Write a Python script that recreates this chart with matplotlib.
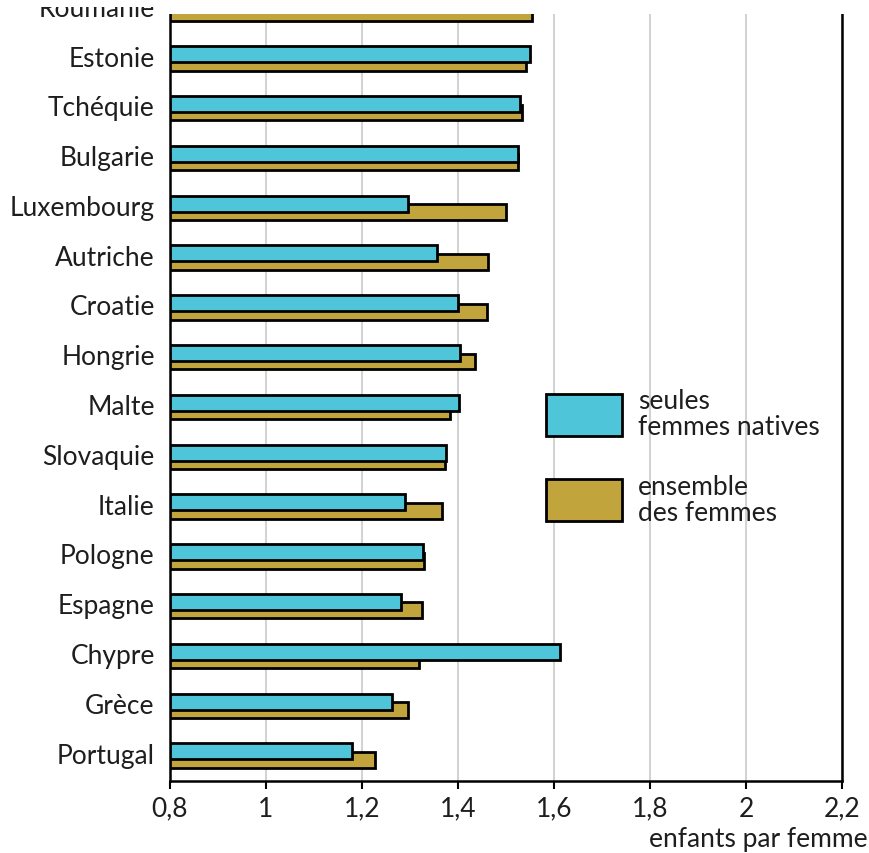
import matplotlib
matplotlib.use("Agg")
import matplotlib.pyplot as plt
import matplotlib.transforms as mtransforms
from matplotlib.patches import Rectangle
import numpy as np

plt.rcParams['font.family'] = ['Lato', 'DejaVu Sans']

# values (enfants par femme)
pays = ["Roumanie", "Estonie", "Tchéquie", "Bulgarie", "Luxembourg", "Autriche",
        "Croatie", "Hongrie", "Malte", "Slovaquie", "Italie", "Pologne",
        "Espagne", "Chypre", "Grèce", "Portugal"]
natives = [1.55, 1.55, 1.53, 1.525, 1.295, 1.357, 1.40, 1.404, 1.403, 1.375,
           1.29, 1.328, 1.281, 1.612, 1.262, 1.179]
ensemble = [1.554, 1.542, 1.533, 1.525, 1.50, 1.462, 1.46, 1.435, 1.383, 1.373,
            1.367, 1.329, 1.325, 1.319, 1.296, 1.227]
xticks = [0.8, 1.0, 1.2, 1.4, 1.6, 1.8, 2.0, 2.2]
xticklabels = ["0,8", "1", "1,2", "1,4", "1,6", "1,8", "2", "2,2"]

cyan = "#4fc5d9"
olive = "#c1a43b"
txt = "#1e1e1e"
fs = 19

fig = plt.figure(figsize=(8.69, 8.54), dpi=100)
ax = fig.add_axes([170 / 869, 72.5 / 854, 672 / 869, 781.5 / 854])

y = np.arange(len(pays))
h = 0.32
off = 0.085
x0 = 0.8
ax.barh(y + off, np.array(ensemble) - x0, left=x0, height=h, color=olive,
        edgecolor="black", linewidth=2.0, zorder=3)
ax.barh(y - off, np.array(natives) - x0, left=x0, height=h, color=cyan,
        edgecolor="black", linewidth=2.0, zorder=4)

ax.set_xlim(0.8, 2.2)
ax.set_ylim(15.5, -0.195)
ax.set_xticks(xticks)
ax.set_xticklabels(xticklabels, fontsize=fs, color=txt)
ax.set_yticks(y)
ax.set_yticklabels(pays, fontsize=fs, color=txt)
ax.tick_params(axis="y", length=0, pad=11)
ax.tick_params(axis="x", length=6, width=1.5, pad=5, direction="out")

# country names sit a little above the bar pair
shift = mtransforms.ScaledTranslation(0, 3 / 100, fig.dpi_scale_trans)
for lab in ax.get_yticklabels():
    lab.set_transform(lab.get_transform() + shift)

ax.xaxis.grid(True, color="#d3d3d3", linewidth=1.5, zorder=0)
ax.set_axisbelow(True)
for s in ["left", "bottom", "right"]:
    ax.spines[s].set_linewidth(1.8)
ax.spines["top"].set_visible(False)

# legend drawn by hand
ax.add_patch(Rectangle((0.5595, 0.4408), 0.113, 0.0537, transform=ax.transAxes,
                       facecolor=cyan, edgecolor="black", linewidth=2.0, zorder=5))
ax.add_patch(Rectangle((0.5595, 0.332), 0.113, 0.0537, transform=ax.transAxes,
                       facecolor=olive, edgecolor="black", linewidth=2.0, zorder=5))
ax.text(0.6964, 0.469, "seules\nfemmes natives", transform=ax.transAxes,
        fontsize=fs, va="center", ha="left", color=txt, linespacing=1.05)
ax.text(0.6964, 0.359, "ensemble\ndes femmes", transform=ax.transAxes,
        fontsize=fs, va="center", ha="left", color=txt, linespacing=1.05)

fig.text(868 / 869, 14 / 854, "enfants par femme", ha="right", va="center",
         fontsize=fs, color=txt)

# top of the source picture is cut off
fig.add_artist(Rectangle((165 / 869, 1 - 15 / 854), 1, 15 / 854,
                         transform=fig.transFigure, facecolor="white",
                         edgecolor="none", zorder=10))
fig.add_artist(Rectangle((0, 1 - 8 / 854), 165 / 869, 8 / 854,
                         transform=fig.transFigure, facecolor="white",
                         edgecolor="none", zorder=10))

fig.savefig("out.png", dpi=100)
